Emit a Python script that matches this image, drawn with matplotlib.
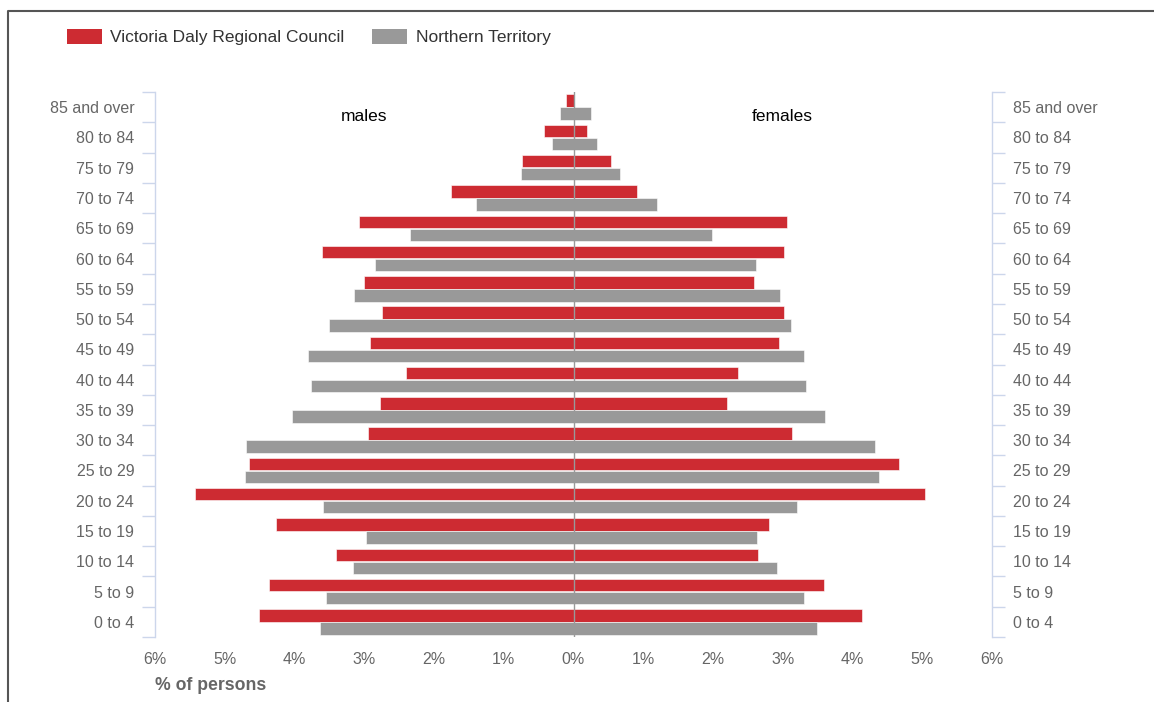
import numpy as np
import matplotlib.pyplot as plt
from matplotlib.patches import Patch
from matplotlib.lines import Line2D

plt.rcParams['font.family'] = ['Liberation Sans', 'DejaVu Sans']

# Age groups, youngest first (bottom of the pyramid)
ages = ['0 to 4', '5 to 9', '10 to 14', '15 to 19', '20 to 24', '25 to 29',
        '30 to 34', '35 to 39', '40 to 44', '45 to 49', '50 to 54', '55 to 59',
        '60 to 64', '65 to 69', '70 to 74', '75 to 79', '80 to 84', '85 and over']

# % of persons
males_vdrc = [4.51, 4.37, 3.41, 4.27, 5.43, 4.65, 2.94, 2.77, 2.40, 2.92,
              2.75, 3.00, 3.61, 3.08, 1.75, 0.74, 0.42, 0.11]
males_nt = [3.63, 3.55, 3.16, 2.98, 3.59, 4.71, 4.69, 4.04, 3.76, 3.81,
            3.51, 3.14, 2.85, 2.34, 1.40, 0.75, 0.31, 0.19]
females_vdrc = [4.13, 3.59, 2.65, 2.80, 5.04, 4.67, 3.13, 2.20, 2.36, 2.94,
                3.02, 2.59, 3.02, 3.06, 0.91, 0.54, 0.19, 0.00]
females_nt = [3.49, 3.31, 2.92, 2.63, 3.20, 4.38, 4.32, 3.60, 3.33, 3.31,
              3.12, 2.96, 2.61, 1.99, 1.20, 0.66, 0.34, 0.25]

ticks_pct = [-6, -5, -4, -3, -2, -1, 0, 1, 2, 3, 4, 5, 6]

red = '#cd2b32'
grey = '#999999'
axis_blue = '#ccd6eb'
label_grey = '#666666'

y = np.arange(len(ages))
h = 0.41
off = 0.215

fig = plt.figure(figsize=(11.54, 7.02), dpi=100)
ax = fig.add_axes([155 / 1154, 65 / 702, 837 / 1154, 545 / 702])

ax.barh(y + off, -np.array(males_vdrc), height=h, color=red, edgecolor='white', linewidth=0.4)
ax.barh(y - off, -np.array(males_nt), height=h, color=grey, edgecolor='white', linewidth=0.4)
ax.barh(y + off, females_vdrc, height=h, color=red, edgecolor='white', linewidth=0.4)
ax.barh(y - off, females_nt, height=h, color=grey, edgecolor='white', linewidth=0.4)

ax.axvline(0, color='#999999', linewidth=1, zorder=3)

ax.set_xlim(-6, 6)
ax.set_ylim(-0.5, len(ages) - 0.5)

ax.set_xticks(ticks_pct)
ax.set_xticklabels([f'{abs(t)}%' for t in ticks_pct])
ax.tick_params(axis='x', length=0, pad=11, labelsize=11.5, labelcolor=label_grey)

# category labels on both sides, ticks at group boundaries
ax.set_yticks(y)
ax.set_yticklabels(ages)
ax.set_yticks(np.arange(-0.5, len(ages)), minor=True)
ax.tick_params(axis='y', which='major', length=0, pad=15, labelsize=11.5,
               labelcolor=label_grey, left=True, right=True, labelleft=True, labelright=True)
ax.tick_params(axis='y', which='minor', length=9.5, width=1, color=axis_blue,
               direction='out', left=True, right=True)
for lbl in ax.get_yticklabels():
    lbl.set_y(lbl.get_position()[1])

for side in ['top', 'bottom']:
    ax.spines[side].set_visible(False)
for side in ['left', 'right']:
    ax.spines[side].set_color(axis_blue)
    ax.spines[side].set_linewidth(1)

ax.text(-3, 16.7, 'males', ha='center', va='center', fontsize=12.5, color='black')
ax.text(3, 16.7, 'females', ha='center', va='center', fontsize=12.5, color='black')

fig.text(155 / 1154, 1 - 686 / 702, '% of persons', ha='left', va='center',
         fontsize=12.7, fontweight='bold', color=label_grey)

handles = [Patch(facecolor=red, label='Victoria Daly Regional Council'),
           Patch(facecolor=grey, label='Northern Territory')]
fig.legend(handles=handles, loc='upper left', bbox_to_anchor=(67 / 1154, 1 - 29 / 702),
           ncol=2, frameon=False, fontsize=12.5, handlelength=2.0, handleheight=0.95,
           handletextpad=0.5, columnspacing=1.6, borderpad=0, borderaxespad=0,
           labelcolor='#333333')

# outer frame (left and top edges)
fig.add_artist(Line2D([8 / 1154, 8 / 1154, 1], [0, 1 - 11 / 702, 1 - 11 / 702],
                      color='#555555', linewidth=1.5, transform=fig.transFigure))

fig.savefig('out.png', dpi=100)
